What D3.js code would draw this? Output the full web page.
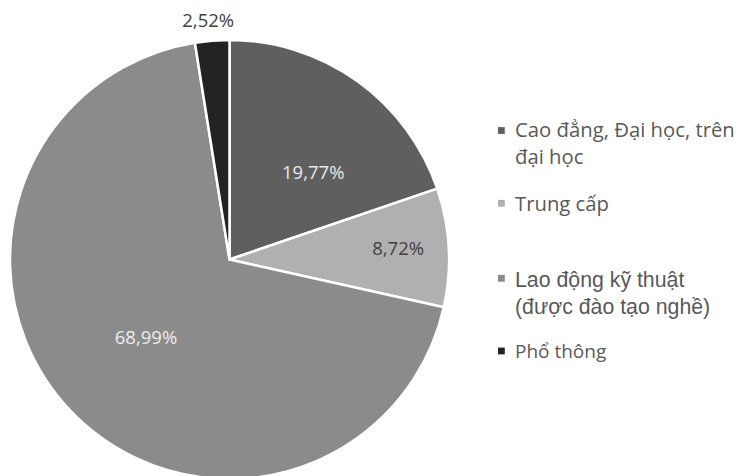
<!DOCTYPE html>
<html>
<head>
<meta charset="utf-8">
<script src="https://cdn.jsdelivr.net/npm/d3@7"></script>
<style>
  body { margin: 0; background: #fff; }
  svg { display: block; }
</style>
</head>
<body>
<svg id="chart" width="744" height="476"></svg>
<script>
// data
var categories = ["Cao đẳng, Đại học, trên đại học", "Trung cấp", "Lao động kỹ thuật (được đào tạo nghề)", "Phổ thông"];
var values = [19.77, 8.72, 68.99, 2.52];
var colors = ["#5f5f5f", "#b0b0b0", "#8b8b8b", "#232323"];
var labelColors = ["#e8e8e8", "#404040", "#ededed", "#404040"];

// legend text lines (wrapped as in the picture)
var legendLines = [["Cao đẳng, Đại học, trên", "đại học"], ["Trung cấp"], ["Lao động kỹ thuật", "(được đào tạo nghề)"], ["Phổ thông"]];

var svg = d3.select("#chart"),
  width = +svg.attr("width"),
  height = +svg.attr("height");

var cx = 229.5, cy = 259.5, radius = 219.5;

var pie = d3.pie().sort(null).value(function(d){ return d; });
var arcs = pie(values);

var arc = d3.arc().innerRadius(0).outerRadius(radius);

var g = svg.append("g").attr("transform", "translate(" + cx + "," + cy + ")");

g.selectAll("path")
  .data(arcs)
  .enter().append("path")
  .attr("d", arc)
  .attr("fill", function(d, i){ return colors[i]; })
  .attr("stroke", "#fff")
  .attr("stroke-width", 2.5)
  .attr("stroke-linejoin", "round");

// label placement (angle in degrees from top, distance from center) like Excel best fit
var labelPlace = [[43.8, 121], [86.1, 169], [227.1, 114], [354.9, 240]];

var fmt = function(v){ return v.toFixed(2).replace(".", ",") + "%"; };

g.selectAll("text.lbl")
  .data(arcs)
  .enter().append("text")
  .attr("class", "lbl")
  .attr("x", function(d, i){ return labelPlace[i][1] * Math.sin(labelPlace[i][0] * Math.PI / 180); })
  .attr("y", function(d, i){ return -labelPlace[i][1] * Math.cos(labelPlace[i][0] * Math.PI / 180); })
  .attr("dy", "0.36em")
  .attr("text-anchor", "middle")
  .attr("font-family", "'Open Sans', sans-serif")
  .attr("font-size", 18.5)
  .attr("fill", function(d, i){ return labelColors[i]; })
  .text(function(d){ return fmt(d.data); });

// legend
var legendBase = [137, 210.7, 286.7, 358];
var lineGap = [26.5, 0, 27.5, 0];
var markerY = [130.5, 203.3, 278.3, 351];
var fonts = ["'Open Sans', sans-serif", "'Open Sans', sans-serif", "'Liberation Sans', Arial, sans-serif", "'Open Sans', sans-serif"];
var fsizes = [20.3, 20.3, 21.3, 19];

var legend = svg.append("g");

legend.selectAll("rect")
  .data(categories)
  .enter().append("rect")
  .attr("x", 498)
  .attr("y", function(d, i){ return markerY[i] - 3.4; })
  .attr("width", 6.8)
  .attr("height", 6.8)
  .attr("fill", function(d, i){ return colors[i]; });

legend.selectAll("text")
  .data(categories)
  .enter().append("text")
  .attr("x", 515)
  .attr("y", function(d, i){ return legendBase[i]; })
  .attr("font-family", function(d, i){ return fonts[i]; })
  .attr("font-size", function(d, i){ return fsizes[i]; })
  .attr("fill", "#595959")
  .each(function(d, i){
    var t = d3.select(this);
    legendLines[i].forEach(function(line, j){
      t.append("tspan")
        .attr("x", 515)
        .attr("dy", j == 0 ? 0 : lineGap[i])
        .text(line);
    });
  });
</script>
</body>
</html>
